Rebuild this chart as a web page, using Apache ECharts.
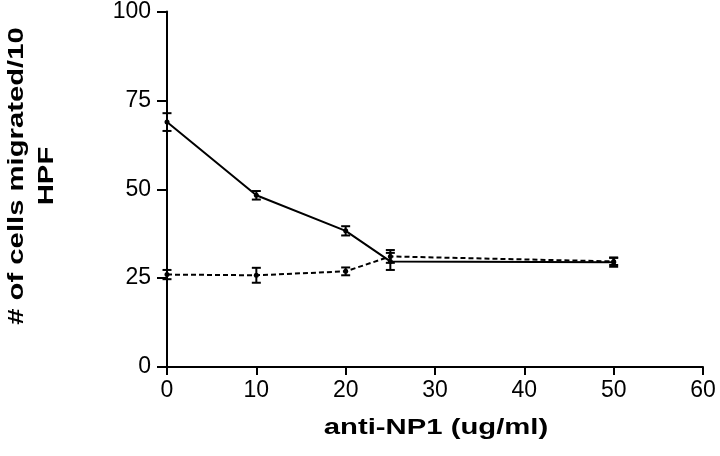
<!DOCTYPE html>
<html><head><meta charset="utf-8">
<script src="https://cdn.jsdelivr.net/npm/echarts@6/dist/echarts.min.js"></script>
<style>html,body{margin:0;padding:0;background:#fff}#c{width:720px;height:456px}</style>
</head><body><div id="c"></div>
<script>
const xValues = [0, 10, 20, 25, 50];
const solidMean = [68.9, 48.3, 38.3, 29.7, 29.5];
const solidErr = [2.5, 1.2, 1.3, 2.4, 1.3];
const dashedMean = [26.0, 25.8, 26.9, 31.1, 29.7];
const dashedErr = [1.3, 2.1, 1.1, 1.8, 1.0];
const xTicks = [0, 10, 20, 30, 40, 50, 60];
const yTicks = [0, 25, 50, 75, 100];
const xTitle = 'anti-NP1 (ug/ml)';
const yTitle = '# of cells migrated/10\nHPF';

const chart = echarts.init(document.getElementById('c'));
function errData(mean, err) {
  return xValues.map((x, i) => [x, mean[i] - err[i], mean[i] + err[i]]);
}
function errSeries(mean, err) {
  return {
    type: 'custom',
    data: errData(mean, err),
    z: 5,
    renderItem: function (params, api) {
      const lo = api.coord([api.value(0), api.value(1)]);
      const hi = api.coord([api.value(0), api.value(2)]);
      const w = 4.5;
      const st = { stroke: '#000', lineWidth: 2 };
      return {
        type: 'group',
        children: [
          { type: 'line', shape: { x1: lo[0], y1: lo[1], x2: hi[0], y2: hi[1] }, style: st },
          { type: 'line', shape: { x1: lo[0] - w, y1: lo[1], x2: lo[0] + w, y2: lo[1] }, style: st },
          { type: 'line', shape: { x1: hi[0] - w, y1: hi[1], x2: hi[0] + w, y2: hi[1] }, style: st }
        ]
      };
    }
  };
}
const font = 'Liberation Sans, Arial, sans-serif';
chart.setOption({
  animation: false,
  backgroundColor: '#fff',
  grid: { left: 167, right: 17, top: 11, bottom: 89 },
  xAxis: {
    type: 'value', min: xTicks[0], max: xTicks[xTicks.length - 1], interval: 10,
    axisLine: { lineStyle: { color: '#000', width: 2 } },
    axisTick: { length: 8, lineStyle: { color: '#000', width: 2 } },
    axisLabel: { color: '#000', fontSize: 23, fontFamily: font, margin: 12 },
    splitLine: { show: false }
  },
  yAxis: {
    type: 'value', min: yTicks[0], max: yTicks[yTicks.length - 1], interval: 25,
    axisLine: { lineStyle: { color: '#000', width: 2 } },
    axisTick: { length: 10, lineStyle: { color: '#000', width: 2 } },
    axisLabel: { color: '#000', fontSize: 23, fontFamily: font, margin: 16 },
    splitLine: { show: false }
  },
  graphic: [{
    type: 'text', x: 32, y: 176, rotation: Math.PI / 2, scaleX: 1.33,
    style: {
      text: yTitle, fill: '#000',
      font: 'bold 22px Liberation Sans, Arial, sans-serif',
      textAlign: 'center', textVerticalAlign: 'middle', lineHeight: 30
    }
  }, {
    type: 'text', x: 436, y: 428, scaleX: 1.33,
    style: {
      text: xTitle, fill: '#000',
      font: 'bold 22px Liberation Sans, Arial, sans-serif',
      textAlign: 'center', textVerticalAlign: 'middle'
    }
  }],
  series: [
    {
      type: 'line', data: xValues.map((x, i) => [x, solidMean[i]]),
      lineStyle: { color: '#000', width: 2 },
      symbol: 'circle', symbolSize: 5, itemStyle: { color: '#000' }
    },
    {
      type: 'line', data: xValues.map((x, i) => [x, dashedMean[i]]),
      lineStyle: { color: '#000', width: 2, type: [5, 3] },
      symbol: 'circle', symbolSize: 5, itemStyle: { color: '#000' }
    },
    errSeries(solidMean, solidErr),
    errSeries(dashedMean, dashedErr)
  ]
});
</script></body></html>
